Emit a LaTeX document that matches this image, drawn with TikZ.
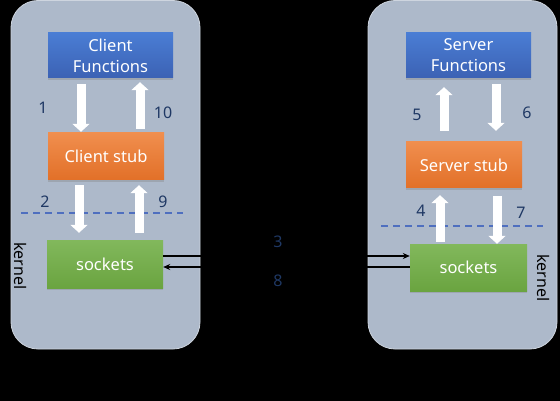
\documentclass[tikz,border=0pt]{standalone}
\usepackage{fontspec}
\setmainfont{Noto Sans}
\usetikzlibrary{arrows.meta,shadows}
\definecolor{panel}{HTML}{ADB9CA}
\definecolor{navy}{HTML}{1F3864}
\definecolor{dashblue}{HTML}{4F6FBF}
\definecolor{bluetop}{RGB}{74,125,212}
\definecolor{bluebot}{RGB}{60,98,180}
\definecolor{orgtop}{RGB}{240,142,78}
\definecolor{orgbot}{RGB}{226,112,40}
\definecolor{grntop}{RGB}{130,184,92}
\definecolor{grnbot}{RGB}{106,164,64}
\tikzset{
  panelbox/.style={fill=panel, draw=panel!60!white, line width=0.8pt, rounded corners=27pt},
  boxbase/.style={inner sep=0pt, text=white, font=\fontsize{16.5}{21}\selectfont, align=center,
     drop shadow={shadow xshift=0pt, shadow yshift=-2pt, opacity=0.35}},
  bluebox/.style={boxbase, minimum width=125pt, minimum height=45pt, top color=bluetop, bottom color=bluebot},
  orangebox/.style={boxbase, minimum width=116pt, minimum height=47pt, top color=orgtop, bottom color=orgbot},
  greenbox/.style={boxbase, minimum width=116pt, minimum height=48pt, top color=grntop, bottom color=grnbot},
  ba/.style={draw=white, line width=9pt, -{Triangle[length=8pt 0 0, width=17pt 0 0]}},
  num/.style={text=navy, font=\fontsize{16}{18}\selectfont, inner sep=0pt},
  kern/.style={text=black, font=\fontsize{16}{18}\selectfont, inner sep=0pt, rotate=-90},
  sep/.style={draw=dashblue, line width=1.1pt, dash pattern=on 7pt off 5pt},
  wire/.style={draw=black, line width=1.5pt}
}
\begin{document}
\begin{tikzpicture}[x=1pt,y=-1pt]
\useasboundingbox (0,0) rectangle (560,401);
\fill[black] (0,0) rectangle (560,401);
% panels
\path[panelbox] (11,0.5) rectangle (200,349);
\path[panelbox] (368,0.5) rectangle (557,349);
% boxes
\node[bluebox] (cf) at (110.5,55.5) {Client\\Functions};
\node[orangebox] (cs) at (106,156.5) {Client stub};
\node[greenbox] (ls) at (105,264) {sockets};
\node[bluebox] (sf) at (468.5,55.5) {Server\\Functions};
\node[orangebox, minimum height=46pt] (ss) at (464,165) {Server stub};
\node[greenbox, minimum width=117pt, minimum height=47pt] (rs) at (468.5,267.5) {sockets};
% dashed kernel boundaries
\coordinate (dl1) at (21,213); \coordinate (dl2) at (183,213);
\coordinate (dr1) at (381,226); \coordinate (dr2) at (543,226);
\draw[sep] (dl1) -- (dl2);
\draw[sep] (dr1) -- (dr2);
% client arrows
\draw[ba, shorten <=6pt, shorten >=1pt] ([xshift=-29.5pt]cf.south) -- ([xshift=-29.5pt]cf.south |- cs.north);
\draw[ba, shorten <=4pt, shorten >=4pt] ([xshift=29.5pt]cf.south |- cs.north) -- ([xshift=29.5pt]cf.south);
\draw[ba, shorten <=5pt, shorten >=7pt] ([xshift=-27pt]cs.south) -- ([xshift=-27pt]cs.south |- ls.north);
\draw[ba, shorten <=7pt, shorten >=5pt] ([xshift=33pt]cs.south |- ls.north) -- ([xshift=33pt]cs.south);
% server arrows
\draw[ba, shorten <=11pt, shorten >=9pt] ([xshift=-24.5pt]sf.south |- ss.north) -- ([xshift=-24.5pt]sf.south);
\draw[ba, shorten <=6pt, shorten >=11pt] ([xshift=27.5pt]sf.south) -- ([xshift=27.5pt]sf.south |- ss.north);
\draw[ba, shorten <=2pt, shorten >=7pt] ([xshift=-24pt]ss.south |- rs.north) -- ([xshift=-24pt]ss.south);
\draw[ba, shorten <=8pt, shorten >=0pt] ([xshift=33pt]ss.south) -- ([xshift=33pt]ss.south |- rs.north);
% wires between sockets
\draw[wire, -{Stealth[length=7pt,width=6pt]}] ([yshift=8pt]ls.east) -- ([yshift=8pt]ls.east -| rs.west);
\draw[wire, -{Stealth[length=7pt,width=6pt]}] ([yshift=-3pt]ls.east -| rs.west) -- ([yshift=-3pt]ls.east);
% numbers
\node[num] (n1) at (43,108) {1};
\node[num] (n10) at (163,113) {10};
\node[num] (n2) at (45,202) {2};
\node[num] (n9) at (163,202) {9};
\node[num] (n3) at (278,242) {3};
\node[num] (n8) at (278,281) {8};
\node[num] (n5) at (417,115) {5};
\node[num] (n6) at (527,113) {6};
\node[num] (n4) at (421,211) {4};
\node[num] (n7) at (521,213) {7};
% kernel labels
\node[kern] (kl) at (20,266) {kernel};
\node[kern] (kr) at (543,278) {kernel};
\end{tikzpicture}
\end{document}
